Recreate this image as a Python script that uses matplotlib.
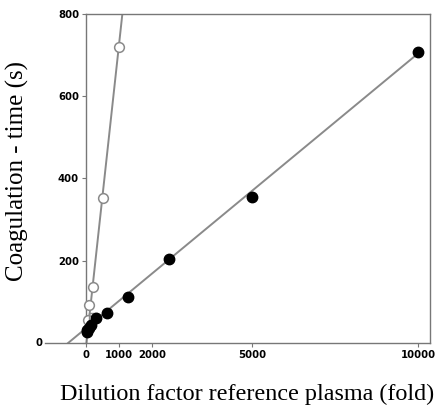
import numpy as np
import matplotlib
matplotlib.use("Agg")
import matplotlib.pyplot as plt

# filled circles: reference plasma dilution series
ref_dilution = [20, 39, 78, 156, 312, 625, 1250, 2500, 5000, 10000]
ref_time = [27, 31, 36, 44, 60, 73, 112, 204, 355, 708]
# open circles: steep series
open_dilution = [50, 100, 200, 500, 1000]
open_time = [56, 93, 136, 353, 720]
# open square
sq_dilution = [200]
sq_time = [63]

# fitted lines (slope, intercept)
ref_fit = (0.0668, 36.0)
open_fit = (0.74, -10.0)

xticks = [0, 1000, 2000, 5000, 10000]
yticks = [0, 200, 400, 600, 800]

W, H = 436, 411
fig = plt.figure(figsize=(W / 100, H / 100), dpi=100)
ax = fig.add_axes([45 / W, 1 - 343 / H, (430 - 45) / W, (343 - 14) / H])
xmin, xmax = -1235, 10360
ax.set_xlim(xmin, xmax)
ax.set_ylim(0, 800)

gray = "#8a8a8a"
axc = "#777777"

# fit lines
xr = np.array([-ref_fit[1] / ref_fit[0], 10000])
ax.plot(xr, ref_fit[0] * xr + ref_fit[1], color=gray, lw=1.4, zorder=2)
xo = np.array([-open_fit[1] / open_fit[0], (800 - open_fit[1]) / open_fit[0]])
ax.plot(xo, open_fit[0] * xo + open_fit[1], color=gray, lw=1.4, zorder=2)

ax.plot(open_dilution, open_time, "o", ms=7, mfc="white", mec=gray, mew=1.1, zorder=3)
ax.plot(sq_dilution, sq_time, "s", ms=6, mfc="none", mec=gray, mew=1.0, zorder=3)
ax.plot(ref_dilution, ref_time, "o", ms=7.5, color="black", zorder=4)

# spines
for s in ax.spines.values():
    s.set_color(axc)
    s.set_linewidth(1.0)
ax.spines["left"].set_position(("data", 0))
ax.spines["top"].set_bounds(0, xmax)

tickfont = dict(family="DejaVu Sans", weight="bold", size=7.3)
ax.set_xticks(xticks)
ax.set_xticklabels([str(t) for t in xticks], **tickfont)
ax.set_yticks(yticks)
ax.set_yticklabels([""] + [str(t) for t in yticks[1:]], **tickfont)
ax.tick_params(axis="both", direction="out", length=3, width=0.8, color=axc, pad=2)
ax.text(-1300, 0, "0", ha="right", va="center", **tickfont)

serif = ["Liberation Serif", "DejaVu Serif"]
fig.text(434 / W, 1 - 400 / H, "Dilution factor reference plasma (fold)",
         ha="right", va="baseline", family=serif, fontsize=17.4)
fig.text(17 / W, 1 - 171 / H, "Coagulation - time (s)", rotation=90,
         ha="center", va="center", family=serif, fontsize=18)

fig.savefig("out.png", dpi=100)
